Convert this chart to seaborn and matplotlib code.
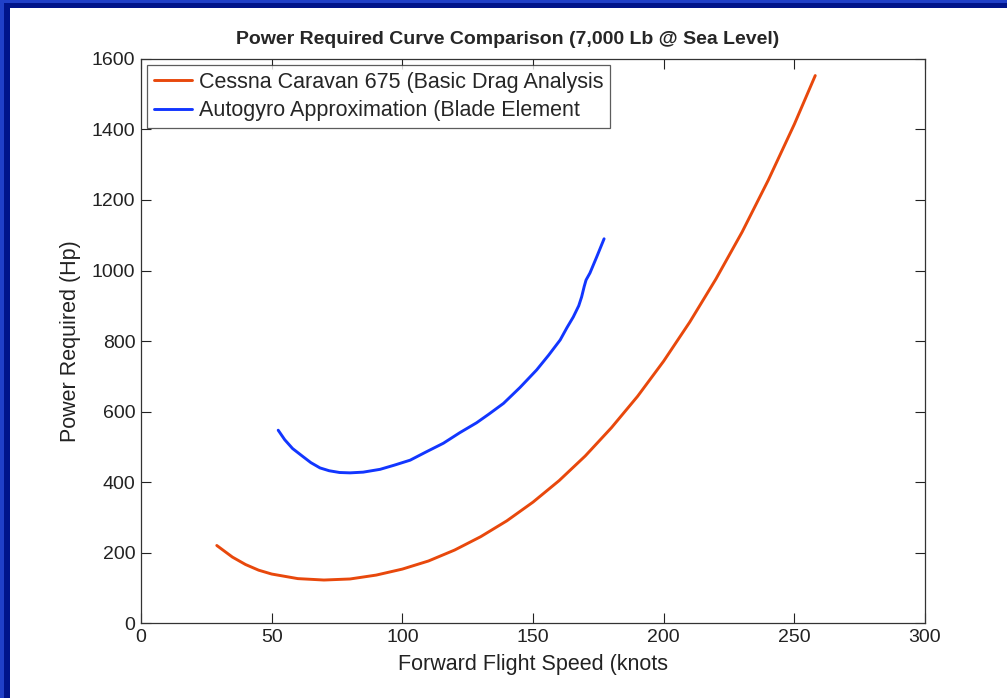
import matplotlib
matplotlib.use("Agg")
import matplotlib.pyplot as plt
import seaborn as sns
import pandas as pd
from matplotlib.patches import Rectangle

# values
cessna_speed = [29, 35, 40, 45, 50, 60, 70, 80, 90, 100, 110, 120, 130, 140,
                150, 160, 170, 180, 190, 200, 210, 220, 230, 240, 250, 258]
cessna_power = [220, 187, 166, 150, 139, 126, 122, 125, 136, 153, 176, 207, 245, 290,
                343, 404, 474, 554, 643, 743, 854, 976, 1109, 1256, 1415, 1553]

gyro_speed = [52.5, 55, 58, 62, 65, 68.5, 72, 76, 80, 85, 91.5, 97, 103, 109, 115.7,
              122, 128.4, 133, 138.7, 145, 151.4, 156, 160.4, 163, 165.4, 167.5,
              168.6, 169.6, 170.3, 171.8, 174.4, 177.2]
gyro_power = [547, 520, 495, 472, 455, 440, 432, 427, 426, 428, 436, 448, 462, 485, 510,
              540, 568, 592, 623, 668, 718, 760, 803, 838, 868, 900,
              925, 955, 973, 993, 1039, 1090]

labels = ["Cessna Caravan 675 (Basic Drag Analysis", "Autogyro Approximation (Blade Element"]
colors = ["#e8480c", "#1236ff"]

df = pd.concat([
    pd.DataFrame({"speed": cessna_speed, "power": cessna_power, "model": labels[0]}),
    pd.DataFrame({"speed": gyro_speed, "power": gyro_power, "model": labels[1]}),
])

sns.set_style("white")
plt.rcParams["font.family"] = ["Liberation Sans", "DejaVu Sans"]

fig = plt.figure(figsize=(10.07, 6.98), dpi=100)
ax = fig.add_axes([0.140, 0.1074, 0.7786, 0.8081])

sns.lineplot(data=df, x="speed", y="power", hue="model", palette=colors,
             sort=False, estimator=None, linewidth=2.1, ax=ax)

ax.set_xlim(0, 300)
ax.set_ylim(0, 1600)
ax.set_xticks(range(0, 301, 50))
ax.set_yticks(range(0, 1601, 200))
ax.tick_params(direction="in", length=7, width=0.8, top=True, right=True,
               bottom=True, left=True, labelsize=14, colors="#222222", pad=4)
for s in ax.spines.values():
    s.set_color("#333333")
    s.set_linewidth(0.9)

ax.set_xlabel("Forward Flight Speed (knots", fontsize=15.5, color="#222222", labelpad=6)
ax.set_ylabel("Power Required (Hp)", fontsize=15.5, color="#222222", labelpad=8)
ax.set_title("Power Required Curve Comparison (7,000 Lb @ Sea Level)",
             fontsize=14, fontweight="bold", pad=11, x=0.467)

leg = ax.legend(loc="upper left", fontsize=15.5, frameon=True, fancybox=False,
                edgecolor="#333333", handlelength=1.75, borderaxespad=0.3,
                borderpad=0.3, labelspacing=0.35, handletextpad=0.35)
leg.get_frame().set_linewidth(0.9)

# blue frame on the top and left edges of the picture
W, H = 1007, 698
fig.add_artist(Rectangle((0, 1 - 3 / H), 1, 3 / H, transform=fig.transFigure,
                         color="#2040c8", lw=0))
fig.add_artist(Rectangle((0, 0), 4 / W, 1, transform=fig.transFigure,
                         color="#2040c8", lw=0))
fig.add_artist(Rectangle((4 / W, 1 - 8 / H), 1, 5 / H, transform=fig.transFigure,
                         color="#00148a", lw=0))
fig.add_artist(Rectangle((4 / W, 0), 6 / W, 1 - 3 / H, transform=fig.transFigure,
                         color="#00148a", lw=0))

fig.savefig("out.png", dpi=100)
